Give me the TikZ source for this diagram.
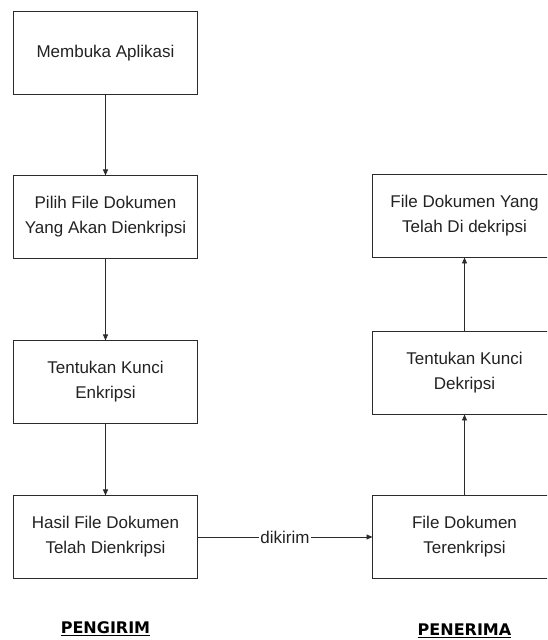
\documentclass[tikz,border=0pt]{standalone}
\usepackage{fontspec}
\setmainfont{Liberation Sans}
\newfontfamily\judulfont{DejaVu Sans}
\usetikzlibrary{positioning,arrows.meta}
\definecolor{cLine}{HTML}{2B2B2B}
\definecolor{cText}{HTML}{222222}
\tikzset{
  font=\fontsize{17}{25}\selectfont,
  >={Triangle[length=6pt,width=5pt]},
  box/.style={draw=cLine, fill=white, line width=1.3pt, minimum width=184pt,
              minimum height=83pt, inner sep=0pt, outer sep=0pt, align=center,
              text=cText},
  flow/.style={->, line width=0.9pt, draw=cLine},
  judul/.style={font=\judulfont\bfseries\fontsize{16}{18}\selectfont, text=black,
                inner sep=0pt},
}
\begin{document}
\begin{tikzpicture}[x=1pt, y=1pt]
\useasboundingbox (0,0) rectangle (547,640);
\clip (0,0) rectangle (547,640);

% ------------------------------------------------------------------ pengirim
\node[box] (buka) at (105.5,587) {Membuka Aplikasi};
\node[box, below=81pt of buka]  (pilih) {Pilih File Dokumen\\Yang Akan Dienkripsi};
\node[box, below=82pt of pilih] (kunci) {Tentukan Kunci\\Enkripsi};
\node[box, below=72pt of kunci] (hasil) {Hasil File Dokumen\\Telah Dienkripsi};
\draw[flow] (buka) -- (pilih);
\draw[flow] (pilih) -- (kunci);
\draw[flow] (kunci) -- (hasil);

% ------------------------------------------------------------------ penerima
\node[box, right=175pt of hasil] (terima) {File Dokumen\\Terenkripsi};
\node[box, above=81pt of terima] (dekunci) {Tentukan Kunci\\Dekripsi};
\node[box, above=74pt of dekunci] (selesai) {File Dokumen Yang\\Telah Di dekripsi};
\draw[flow] (hasil) -- node[fill=white, inner sep=1pt, text=cText] {dikirim} (terima);
\draw[flow] (terima) -- (dekunci);
\draw[flow] (dekunci) -- (selesai);

% ------------------------------------------------------------------ judul
\node[judul, below=43pt of hasil]  (pengirim) {\underline{PENGIRIM}};
\node[judul, below=45pt of terima] (penerima) {\underline{PENERIMA}};

\end{tikzpicture}
\end{document}
